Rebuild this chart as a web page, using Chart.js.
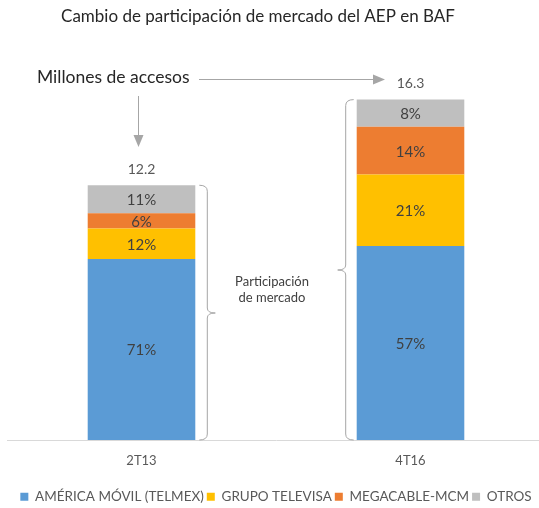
<!DOCTYPE html>
<html>
<head>
<meta charset="utf-8">
<script src="https://cdn.jsdelivr.net/npm/chart.js@4"></script>
<style>
  html, body { margin: 0; padding: 0; background: #fff; overflow: hidden; }
  #wrap { width: 546px; height: 508px; position: relative; }
</style>
</head>
<body>
<div id="wrap"><canvas id="chart"></canvas></div>
<script>
// data
var categories = ['2T13', '4T16'];
var totals = [12.2, 16.3];               // millones de accesos
var america = [71, 57];                  // % share
var televisa = [12, 21];
var megacable = [6, 14];
var otros = [11, 8];

var seriesNames = ['AMÉRICA MÓVIL (TELMEX)', 'GRUPO TELEVISA', 'MEGACABLE-MCM', 'OTROS'];
var seriesColors = ['#5B9BD5', '#FFC000', '#ED7D31', '#BFBFBF'];
var shares = [america, televisa, megacable, otros];

var FONT = 'Lato, "Open Sans", sans-serif';

// millions per segment from total and share
function toMillions(share) {
  return share.map(function(p, i) { return totals[i] * p / 100; });
}

var datasets = shares.map(function(s, k) {
  return {
    label: seriesNames[k],
    data: toMillions(s),
    shares: s,
    backgroundColor: seriesColors[k],
    borderWidth: 0,
    barPercentage: 0.4,
    categoryPercentage: 1
  };
});

// ================= helpers for annotations =================
function arrow(ctx, x1, y1, x2, y2) {
  ctx.save();
  ctx.strokeStyle = '#A6A6A6';
  ctx.fillStyle = '#A6A6A6';
  ctx.lineWidth = 1;
  var ang = Math.atan2(y2 - y1, x2 - x1);
  var hl = 12, hw = 5;
  ctx.beginPath();
  ctx.moveTo(x1, y1);
  ctx.lineTo(x2 - hl * Math.cos(ang), y2 - hl * Math.sin(ang));
  ctx.stroke();
  ctx.beginPath();
  ctx.moveTo(x2, y2);
  ctx.lineTo(x2 - hl * Math.cos(ang) - hw * Math.sin(ang), y2 - hl * Math.sin(ang) + hw * Math.cos(ang));
  ctx.lineTo(x2 - hl * Math.cos(ang) + hw * Math.sin(ang), y2 - hl * Math.sin(ang) - hw * Math.cos(ang));
  ctx.closePath();
  ctx.fill();
  ctx.restore();
}

// dir = 1 points right, -1 points left
function brace(ctx, x, top, bottom, mid, dir) {
  var w = 8 * dir;
  ctx.save();
  ctx.strokeStyle = '#A6A6A6';
  ctx.lineWidth = 1;
  ctx.beginPath();
  ctx.moveTo(x, top);
  ctx.quadraticCurveTo(x + w, top, x + w, top + 6);
  ctx.lineTo(x + w, mid - 5);
  ctx.quadraticCurveTo(x + w, mid, x + 2 * w, mid);
  ctx.quadraticCurveTo(x + w, mid, x + w, mid + 5);
  ctx.lineTo(x + w, bottom - 6);
  ctx.quadraticCurveTo(x + w, bottom, x, bottom);
  ctx.stroke();
  ctx.restore();
}

var annotations = {
  id: 'annotations',
  afterDatasetsDraw: function(chart) {
    var ctx = chart.ctx;

    // percent labels inside segments
    ctx.save();
    ctx.textAlign = 'center';
    ctx.textBaseline = 'middle';
    ctx.font = '15px ' + FONT;
    ctx.fillStyle = '#404040';
    chart.data.datasets.forEach(function(ds, k) {
      chart.getDatasetMeta(k).data.forEach(function(bar, i) {
        var y = (bar.y + bar.base) / 2;
        ctx.fillText(ds.shares[i] + '%', bar.x, y + 1);
      });
    });

    // totals above bars
    var topMeta = chart.getDatasetMeta(chart.data.datasets.length - 1);
    ctx.fillStyle = '#595959';
    ctx.font = '14px ' + FONT;
    topMeta.data.forEach(function(bar, i) {
      ctx.fillText(totals[i].toFixed(1), bar.x, bar.y - 16);
    });

    // title
    ctx.fillStyle = '#262626';
    ctx.font = '17px ' + FONT;
    ctx.fillText('Cambio de participación de mercado del AEP en BAF', 258, 17);

    // side note
    ctx.textAlign = 'left';
    ctx.font = '17.5px ' + FONT;
    ctx.fillText('Millones de accesos', 37, 77);

    ctx.textAlign = 'center';
    ctx.fillStyle = '#404040';
    ctx.font = '13px ' + FONT;
    ctx.fillText('Participación', 272, 282);
    ctx.fillText('de mercado', 272, 298);
    ctx.restore();

    var b1 = topMeta.data[0], b2 = topMeta.data[1];
    var base = chart.getDatasetMeta(0).data[0].base;
    arrow(ctx, 199, 79.5, 385, 79.5);
    arrow(ctx, 138.5, 96, 138.5, 147);
    brace(ctx, b1.x + b1.width / 2 + 4, b1.y, base, 313, 1);
    brace(ctx, b2.x - b2.width / 2 - 3, b2.y, base, 270, -1);
  }
};

new Chart(document.getElementById('chart'), {
  type: 'bar',
  data: { labels: categories, datasets: datasets },
  options: {
    responsive: true,
    maintainAspectRatio: false,
    animation: false,
    layout: { padding: { left: 7, right: 1, top: 85, bottom: -5.5 } },
    plugins: {
      legend: {
        position: 'bottom',
        labels: {
          boxWidth: 8,
          boxHeight: 8,
          padding: 3,
          color: '#595959',
          font: { family: FONT, size: 13.5 }
        }
      },
      tooltip: { enabled: false }
    },
    scales: {
      x: {
        stacked: true,
        grid: { display: false },
        border: { color: '#D9D9D9' },
        ticks: { color: '#595959', font: { family: FONT, size: 13 }, padding: 5 },
        afterFit: function(scale) { scale.height = 47; }
      },
      y: {
        stacked: true,
        display: false,
        min: 0,
        max: 17
      }
    }
  },
  plugins: [annotations]
});
</script>
</body>
</html>
